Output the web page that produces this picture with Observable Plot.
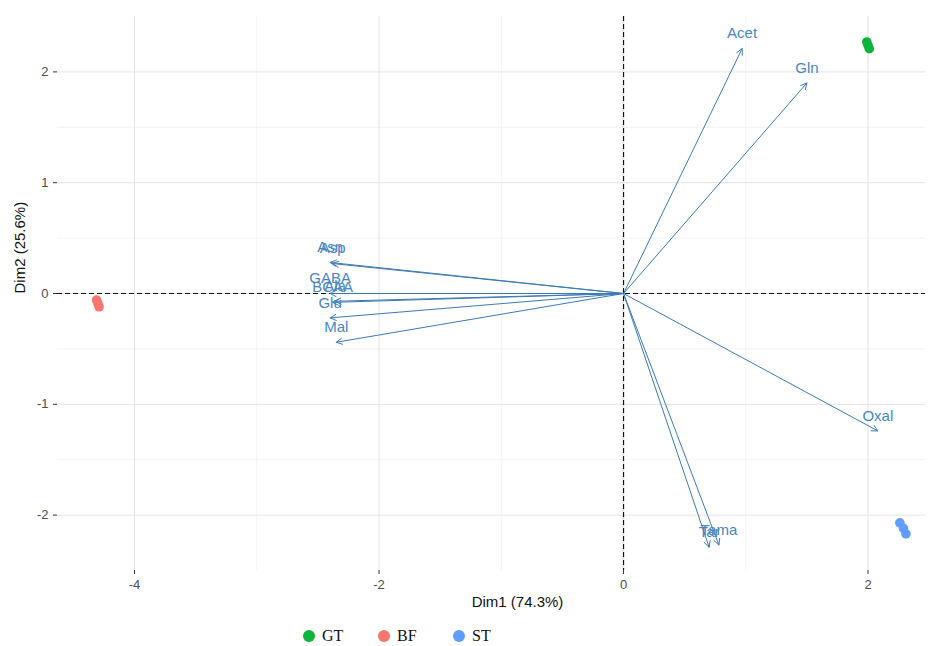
<!DOCTYPE html>
<html>
<head>
<meta charset="utf-8">
<script src="https://cdn.jsdelivr.net/npm/d3@7"></script>
<script src="https://cdn.jsdelivr.net/npm/@observablehq/plot@0.6"></script>
<style>
  body { margin: 0; background: #fff; font-family: "Liberation Sans", Arial, sans-serif; }
  #wrap { position: relative; width: 938px; height: 646px; }
  .leg { position: absolute; top: 627px; display: flex; align-items: center; font-family: "Liberation Serif", "Times New Roman", serif; font-size: 16px; color: #111; }
  .leg span.dot { width: 12px; height: 12px; border-radius: 50%; display: inline-block; margin-right: 7px; }
</style>
</head>
<body>
<div id="wrap"></div>
<script>
// Variables (loadings arrows)
const varNames = ["Acet", "Gln", "Oxal", "Tama", "Tar", "Asn", "Asp", "GABA", "BCAA", "Ala", "Glu", "Mal"];
const varDim1  = [0.97, 1.50, 2.08, 0.78, 0.70, -2.40, -2.38, -2.40, -2.38, -2.36, -2.40, -2.35];
const varDim2  = [2.21, 1.90, -1.24, -2.27, -2.29, 0.28, 0.27, 0.00, -0.08, -0.07, -0.22, -0.44];

// Individuals
const indGroup = ["GT", "GT", "GT", "BF", "BF", "BF", "ST", "ST", "ST"];
const indDim1  = [1.99, 2.00, 2.01, -4.31, -4.30, -4.29, 2.26, 2.29, 2.31];
const indDim2  = [2.27, 2.24, 2.21, -0.06, -0.09, -0.12, -2.07, -2.12, -2.17];

const groups = ["GT", "BF", "ST"];
const groupColors = ["#0DB33A", "#F8766D", "#619CFF"];

const xTicks = [-4, -2, 0, 2];
const xMinor = [-3, -1, 1];
const yTicks = [-2, -1, 0, 1, 2];
const yMinor = [-1.5, -0.5, 0.5, 1.5];

const xLabel = "Dim1 (74.3%)";
const yLabel = "Dim2 (25.6%)";

const vars = varNames.map((n, i) => ({name: n, x: varDim1[i], y: varDim2[i]}));
const inds = indGroup.map((g, i) => ({group: g, x: indDim1[i], y: indDim2[i]}));

const fmt = d => String(d);

const chart = Plot.plot({
  width: 938,
  height: 620,
  marginLeft: 57,
  marginRight: 13,
  marginTop: 16,
  marginBottom: 50,
  style: {background: "#fff", fontFamily: "Liberation Sans, Arial, sans-serif"},
  x: {domain: [-4.63, 2.47]},
  y: {domain: [-2.5, 2.5]},
  color: {domain: groups, range: groupColors},
  marks: [
    Plot.ruleX(xMinor, {stroke: "#f0f0f0", strokeWidth: 0.8}),
    Plot.ruleY(yMinor, {stroke: "#f0f0f0", strokeWidth: 0.8}),
    Plot.ruleX(xTicks, {stroke: "#e3e3e3", strokeWidth: 1}),
    Plot.ruleY(yTicks, {stroke: "#e3e3e3", strokeWidth: 1}),
    Plot.axisX({ticks: xTicks, tickFormat: fmt, tickSize: 4, tickPadding: 5, label: null, fontSize: 13, color: "#4d4d4d", stroke: "#333"}),
    Plot.axisY({ticks: yTicks, tickFormat: fmt, tickSize: 4, tickPadding: 5, label: null, fontSize: 13, color: "#4d4d4d", stroke: "#333"}),
    Plot.ruleX([0], {stroke: "#111", strokeDasharray: "5,3", strokeWidth: 1.2}),
    Plot.ruleY([0], {stroke: "#111", strokeDasharray: "5,3", strokeWidth: 1.2}),
    Plot.arrow(vars, {x1: () => 0, y1: () => 0, x2: "x", y2: "y", stroke: "#3d7ab3", strokeWidth: 1, headLength: 10, headAngle: 55}),
    Plot.text(vars, {x: "x", y: "y", text: "name", dy: -15, fill: "#4a86be", fontSize: 15}),
    Plot.dot(inds, {x: "x", y: "y", fill: "group", r: 4.8}),
    Plot.text([xLabel], {frameAnchor: "bottom", dy: 36, dx: 26, fontSize: 15, fill: "#111"}),
    Plot.text([yLabel], {frameAnchor: "left", dx: -37, rotate: -90, fontSize: 15, fill: "#111"})
  ]
});

const wrap = document.getElementById("wrap");
wrap.appendChild(chart);

const legLeft = [303, 378, 453];
groups.forEach((g, i) => {
  const d = document.createElement("div");
  d.className = "leg";
  d.style.left = legLeft[i] + "px";
  const dot = document.createElement("span");
  dot.className = "dot";
  dot.style.background = groupColors[i];
  const t = document.createElement("span");
  t.textContent = g;
  d.appendChild(dot);
  d.appendChild(t);
  wrap.appendChild(d);
});
</script>
</body>
</html>
